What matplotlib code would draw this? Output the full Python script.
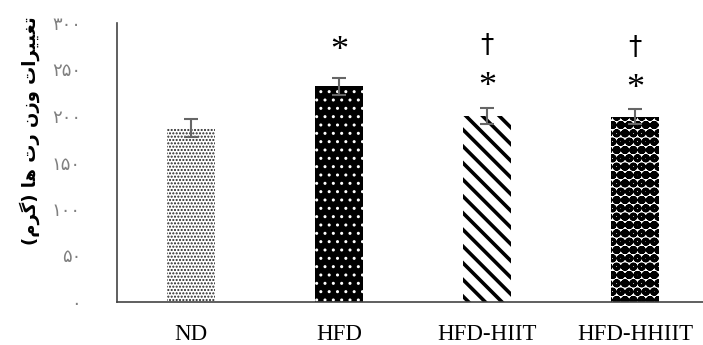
import numpy as np
import matplotlib.pyplot as plt

groups = ["ND", "HFD", "HFD-HIIT", "HFD-HHIIT"]
weight_change = [187, 232, 200, 199]
sem = [10, 9, 9, 8]
star_marks = ["", "*", "*", "*"]
dagger_marks = ["", "", "†", "†"]
yticks = [0, 50, 100, 150, 200, 250, 300]

fa_digits = str.maketrans("0123456789", "۰۱۲۳۴۵۶۷۸۹")
ytick_labels = [str(v).translate(fa_digits) for v in yticks]

# presentation forms in visual (left-to-right) order, matplotlib does no shaping
ylabel = ("(\uFEE1\uFEAE\uFB94) \uFE8E\uFEEB \uFE95\uFEAD \uFEE5\uFEAF\uFEED "
          "\uFE95\uFE8D\uFEAE\uFEF4\uFEF4\uFED0\uFE97")

hatches = [".....", "..", "\\\\", "oo"]
faces = ["white", "black", "white", "white"]
hatch_cols = ["#222222", "white", "black", "black"]
hatch_lw = [1.0, 1.0, 2.6, 3.4]

fig = plt.figure(figsize=(7.03, 3.45), dpi=100)
ax = fig.add_axes([117 / 703, 43 / 345, 1 - 117 / 703, 279 / 345])

x = np.arange(len(groups))
for i in range(len(groups)):
    b = ax.bar(x[i], weight_change[i], width=0.32, color=faces[i],
               edgecolor=hatch_cols[i], linewidth=0, hatch=hatches[i])[0]
    if hasattr(b, "set_hatch_linewidth"):
        b.set_hatch_linewidth(hatch_lw[i])

ax.errorbar(x, weight_change, yerr=sem, fmt="none", ecolor="#666666",
            elinewidth=1.5, capsize=5, capthick=1.5)

for i in range(len(groups)):
    top = weight_change[i] + sem[i]
    if star_marks[i]:
        off = 28 if not dagger_marks[i] else 22
        ax.text(x[i], top + off, star_marks[i], ha="center", va="center",
                fontsize=26, family="Liberation Serif")
    if dagger_marks[i]:
        ax.text(x[i], top + 66, dagger_marks[i], ha="center", va="center",
                fontsize=19, family="DejaVu Sans")

ax.set_xlim(-0.5, 3.46)
ax.set_ylim(0, 300)
ax.set_yticks(yticks)
ax.set_yticklabels(ytick_labels, color="#808080", fontsize=13,
                   family="DejaVu Sans")
ax.set_xticks(x)
ax.set_xticklabels(groups, fontsize=16.5, family="Liberation Serif")
ax.tick_params(axis="y", length=0, pad=26)
ax.tick_params(axis="x", length=0, pad=16)
for s in ["top", "right"]:
    ax.spines[s].set_visible(False)
for s in ["left", "bottom"]:
    ax.spines[s].set_color("#444444")
    ax.spines[s].set_linewidth(1.2)

fig.text(30 / 703, 0.62, ylabel, rotation=90, ha="center", va="center",
         fontsize=13, fontweight="bold", family="DejaVu Sans")

fig.savefig("out.png", dpi=100)
